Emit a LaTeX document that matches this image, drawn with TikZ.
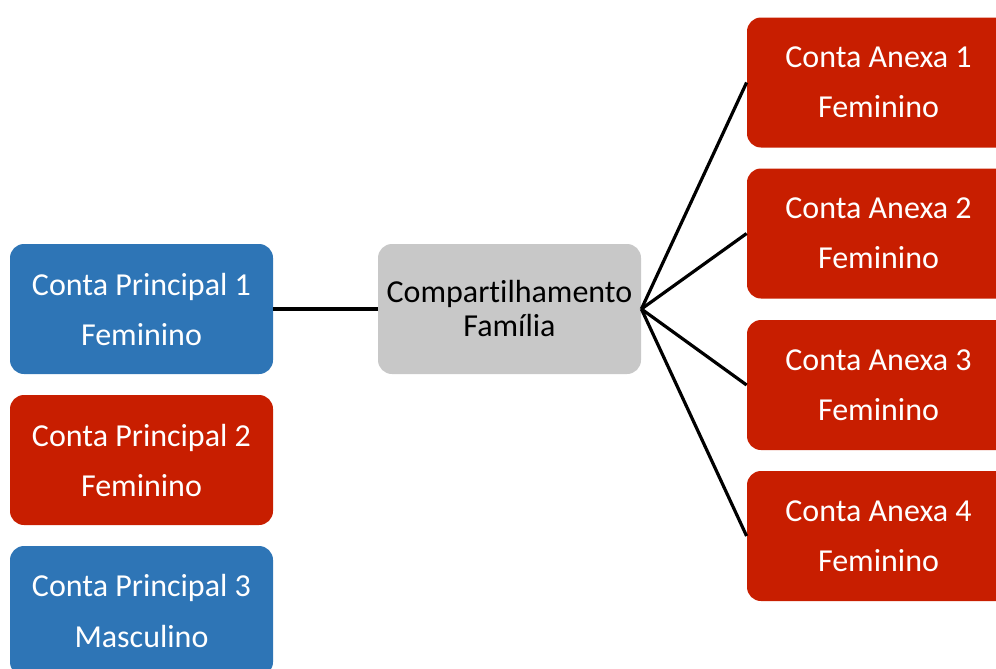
\documentclass[tikz,border=0pt]{standalone}
\usepackage{fontspec}
\setmainfont{Carlito}[Ligatures=NoCommon]
\usetikzlibrary{positioning}
\definecolor{contablue}{HTML}{2E75B6}
\definecolor{contared}{HTML}{C81E00}
\definecolor{hubgray}{HTML}{C8C8C8}

\begin{document}
\begin{tikzpicture}[
  x=0.5pt, y=-0.5pt,
  account/.style={rounded corners=7pt, minimum width=131.5pt, minimum height=65pt, align=center, text=white, font=\fontsize{16}{25}\selectfont, inner sep=0pt},
  principal/.style={account, fill=contablue},
  anexa/.style={account, fill=contared},
  hub/.style={rounded corners=7pt, fill=hubgray, minimum width=131.5pt, minimum height=65pt, align=center, font=\fontsize{16}{17}\selectfont, inner sep=0pt},
  link/.style={line width=1.6pt, black}
]
\clip (0,0) rectangle (996,669);
\useasboundingbox (0,0) rectangle (996,669);

% Left column: main accounts
\node[principal] (cp1) at (141.5,309) {Conta Principal 1\\Feminino};
\node[anexa] (cp2) at (141.5,460) {Conta Principal 2\\Feminino};
\node[principal] (cp3) at (141.5,611) {Conta Principal 3\\Masculino};

% Center
\node[hub] (fam) at (509.5,309) {Compartilhamento\\Família};

% Right column: attached accounts
\node[anexa] (ca1) at (878.5,82.5) {Conta Anexa 1\\Feminino};
\node[anexa] (ca2) at (878.5,233.5) {Conta Anexa 2\\Feminino};
\node[anexa] (ca3) at (878.5,385) {Conta Anexa 3\\Feminino};
\node[anexa] (ca4) at (878.5,536) {Conta Anexa 4\\Feminino};

% Links
\draw[link] (cp1.east) -- (fam.west);
\draw[link] (fam.east) -- (ca1.west);
\draw[link] (fam.east) -- (ca2.west);
\draw[link] (fam.east) -- (ca3.west);
\draw[link] (fam.east) -- (ca4.west);

\end{tikzpicture}
\end{document}
